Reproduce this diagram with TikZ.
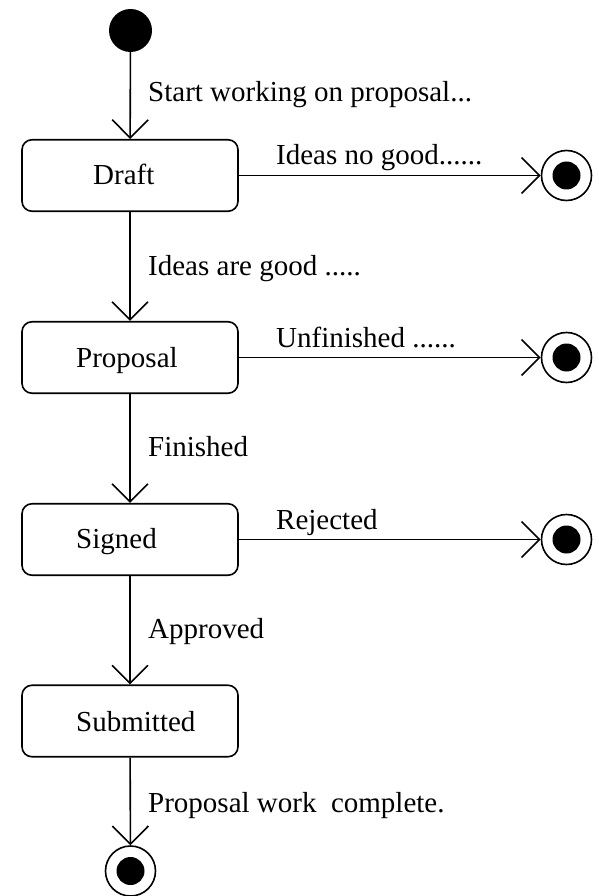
\documentclass[tikz,border=0pt]{standalone}
\usepackage{fontspec}
\setmainfont{Liberation Serif}
\usetikzlibrary{arrows.meta}
\begin{document}
\begin{tikzpicture}[x=1pt,y=-1pt,
  every node/.style={font=\fontsize{29}{34}\selectfont},
  state/.style={draw, line width=1.6pt, rounded corners=10pt, minimum width=216pt, minimum height=71.5pt, inner sep=0pt},
  initstate/.style={circle, fill=black, minimum size=43pt, inner sep=0pt},
  finalstate/.style={circle, draw, line width=1.6pt, minimum size=50pt, inner sep=0pt},
  dot/.style={fill=black},
  trans/.style={line width=1.6pt, -{Straight Barb[length=18pt,width=36pt,line width=1.6pt]}},
  lbl/.style={anchor=base west, inner sep=0pt}
]
\useasboundingbox (0,0) rectangle (598,896);

% states
\node[initstate] (init) at (130.5,30.5) {};
\node[state] (draft) at (130,175.5) {};
\node[state] (proposal) at (130,357.5) {};
\node[state] (signed) at (130,539.5) {};
\node[state] (submitted) at (130,721) {};

\node[lbl] (tdraft) at (93,185) {Draft};
\node[lbl] (tproposal) at (76,367) {Proposal};
\node[lbl] (tsigned) at (76,548.5) {Signed};
\node[lbl] (tsubmitted) at (76,731) {Submitted};

% final states
\node[finalstate] (f1) at (566.5,175.5) {};
\node[finalstate] (f2) at (566.5,357.5) {};
\node[finalstate] (f3) at (566.5,539.5) {};
\node[finalstate] (f4) at (130.5,871) {};
\foreach \f in {f1,f2,f3,f4} { \fill[dot] (\f.center) circle (14pt); }

% transitions
\draw[trans] (init) -- (draft);
\draw[trans] (draft) -- (proposal);
\draw[trans] (proposal) -- (signed);
\draw[trans] (signed) -- (submitted);
\draw[trans] (submitted) -- (f4);
\draw[trans] (draft) -- (f1);
\draw[trans] (proposal) -- (f2);
\draw[trans] (signed) -- (f3);

% labels
\node[lbl] (l1) at (148,102) {Start working on proposal...};
\node[lbl] (l2) at (148,275) {Ideas are good .....};
\node[lbl] (l3) at (148,456) {Finished};
\node[lbl] (l4) at (148,638) {Approved};
\node[lbl] (l5) at (148,812) {Proposal work\ \ complete.};
\node[lbl] (l6) at (276,165) {Ideas no good......};
\node[lbl] (l7) at (276,347) {Unfinished ......};
\node[lbl] (l8) at (276,529.5) {Rejected};
\end{tikzpicture}
\end{document}
